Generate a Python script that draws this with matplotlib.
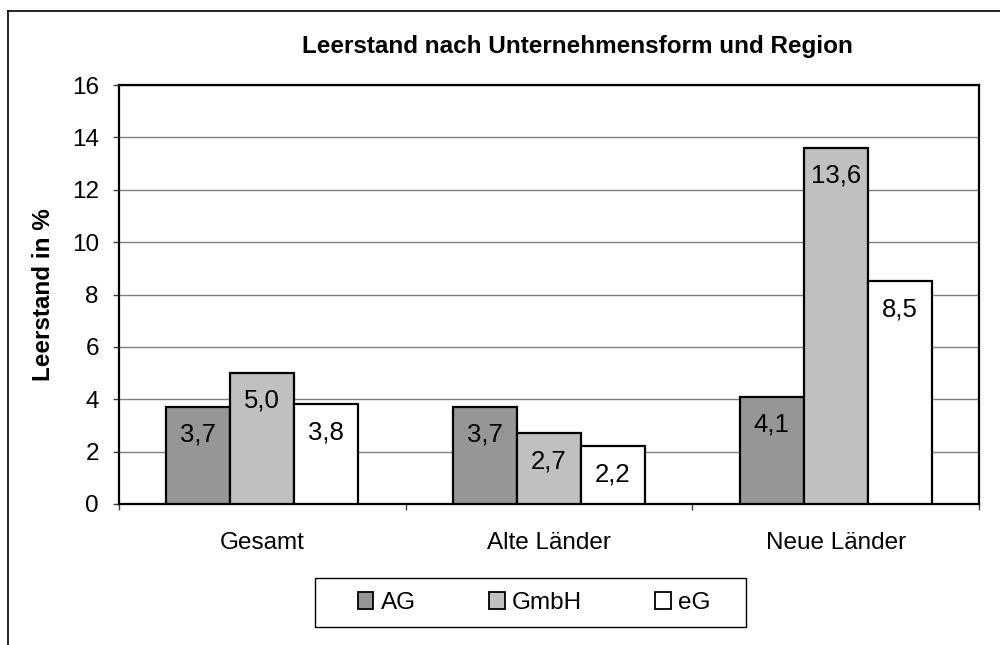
import numpy as np
import matplotlib
matplotlib.use("Agg")
import matplotlib.pyplot as plt
from matplotlib.lines import Line2D
from matplotlib.patches import Rectangle

plt.rcParams['font.family'] = ['Liberation Sans', 'DejaVu Sans']

# Data
regions = ['Gesamt', 'Alte Länder', 'Neue Länder']
series = ['AG', 'GmbH', 'eG']
ag = [3.7, 3.7, 4.1]
gmbh = [5.0, 2.7, 13.6]
eg = [3.8, 2.2, 8.5]
colors = ['#969696', '#c0c0c0', '#ffffff']

fig = plt.figure(figsize=(10, 6.45), dpi=100)
ax = fig.add_axes([0.119, 1 - 504 / 645, 0.86, (504 - 85) / 645])

x = np.arange(len(regions))
w = 0.223
for i, (vals, c, name) in enumerate(zip([ag, gmbh, eg], colors, series)):
    bars = ax.bar(x + (i - 1) * w, vals, w, color=c, edgecolor='black',
                  linewidth=1.6, label=name, zorder=3)
    for b, v in zip(bars, vals):
        ax.annotate(f"{v:.1f}".replace('.', ','),
                    (b.get_x() + b.get_width() / 2, v),
                    xytext=(0, -20), textcoords='offset points',
                    ha='center', va='center', fontsize=18.5, zorder=4)

ax.set_xlim(-0.5, 2.5)
ax.set_ylim(0, 16)
ax.set_yticks(range(0, 17, 2))
ax.yaxis.grid(True, color='#808080', linewidth=1, zorder=0)
ax.tick_params(axis='y', length=4.5, width=1, color='#404040', pad=10,
               labelsize=17.5)

ax.set_xticks(x)
ax.set_xticklabels(regions, fontsize=17.5)
ax.tick_params(axis='x', which='major', length=0, pad=20)
ax.set_xticks([-0.5, 0.5, 1.5, 2.5], minor=True)
ax.tick_params(axis='x', which='minor', length=4.5, width=1, color='#404040')

for s in ax.spines.values():
    s.set_linewidth(1.6)
    s.set_color('black')

ax.set_ylabel('Leerstand in %', fontsize=17.5, fontweight='bold', labelpad=12)

fig.text(0.5775, 1 - 47 / 645, 'Leerstand nach Unternehmensform und Region',
         ha='center', va='center', fontsize=17.5, fontweight='bold')

# legend: entries centred, separate frame box
leg = fig.legend(loc='center', ncol=3, bbox_to_anchor=(0.534, 1 - 603 / 645),
                 fontsize=17.5, frameon=False,
                 handlelength=0.65, handleheight=0.65, handletextpad=0.3,
                 columnspacing=3.0)
for h in leg.legend_handles:
    h.set_linewidth(1.3)
fig.add_artist(Rectangle((0.315, 1 - 627 / 645), 0.431, 49 / 645,
                         transform=fig.transFigure, fill=False,
                         edgecolor='black', linewidth=1))

# outer chart border (left and top only visible)
fig.add_artist(Line2D([0.008, 0.008], [0, 1 - 11 / 645], color='black',
                      linewidth=1.2, transform=fig.transFigure))
fig.add_artist(Line2D([0.008, 1], [1 - 11 / 645, 1 - 11 / 645], color='black',
                      linewidth=1.2, transform=fig.transFigure))

fig.savefig('out.png', dpi=100)
